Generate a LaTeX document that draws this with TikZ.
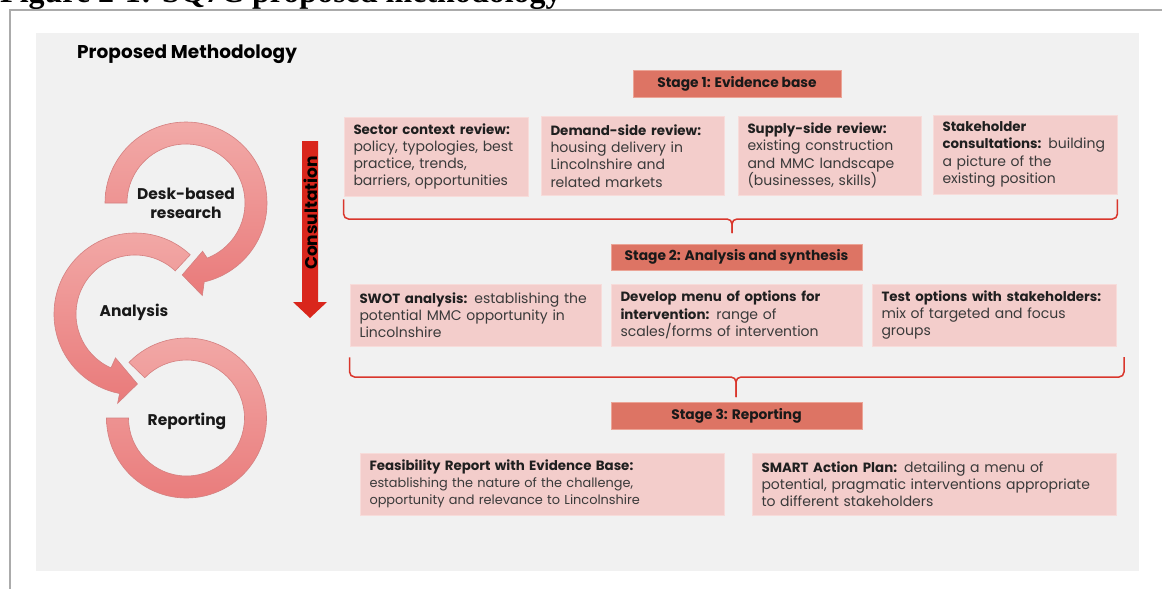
\documentclass[tikz,border=0pt]{standalone}
\usepackage{fontspec}
\setmainfont{Poppins}
\newfontfamily\captionserif{Liberation Serif}
\usetikzlibrary{calc}

\definecolor{panelgray}{HTML}{F1F1F1}
\definecolor{framegray}{HTML}{ABABAB}
\definecolor{stagefill}{HTML}{DD7464}
\definecolor{stageedge}{HTML}{EBA496}
\definecolor{boxfill}{HTML}{F3CDCB}
\definecolor{boxedge}{HTML}{F7DCDA}
\definecolor{bracered}{HTML}{D9362C}
\definecolor{consred}{HTML}{D9261C}
\definecolor{bodytext}{HTML}{3A3A3A}
\definecolor{ringtop}{HTML}{F2AAA8}
\definecolor{ringbot}{HTML}{E97A7A}
\definecolor{ringedge}{HTML}{D48080}

\newcommand\lbl[1]{{\fontsize{13.4}{17.3}\selectfont\bfseries\color{black!88}#1}}

\tikzset{
  panelbox/.style={fill=boxfill, draw=boxedge, line width=0.8pt,
    inner xsep=9.5pt, inner ysep=0pt, align=left, text=bodytext,
    font=\fontsize{14}{17.3}\selectfont},
  stagebox/.style={fill=stagefill, draw=stageedge, line width=0.8pt,
    inner sep=0pt, text=black!90, font=\bfseries\fontsize{13.8}{16}\selectfont},
  brace/.style={draw=bracered, line width=1.5pt, rounded corners=5pt},
  ring/.style={top color=ringtop, bottom color=ringbot},
  ringline/.style={draw=ringedge, line width=0.6pt},
  ringlabel/.style={text=black!90, align=center, font=\bfseries\fontsize{15.5}{19}\selectfont},
}

\begin{document}
\begin{tikzpicture}[x=1pt,y=1pt]
\useasboundingbox (0,0) rectangle (1162,-589);
\clip (0,0) rectangle (1162,-589);

% page caption (cut by the top edge) and page frame
\node[anchor=base west, inner sep=0pt,
  font=\captionserif\fontsize{32}{32}\bfseries\selectfont] (caption) at (0,-2)
  {Figure 2-1: SQ7C proposed methodology};
\fill[white] (0,-10) rectangle (1162,-589);
\draw[framegray, line width=2pt] (10,-589) -- (10,-10) -- (1162,-10);

% grey slide panel
\fill[panelgray] (36,-33) rectangle (1139,-571);

\node[anchor=west, inner sep=0pt, font=\bfseries\fontsize{18.5}{18.5}\selectfont] (title)
  at (77,-54) {Proposed Methodology};

% circular process arrows
\begin{scope}[shift={(186,-203)}]
  \shade[ring] (180:81) arc[start angle=180, end angle=-77, radius=81]
    -- (-80:94) -- (-93:72) -- (-71:51) -- (-69:59)
    arc[start angle=-69, end angle=180, radius=59] -- cycle;
  \draw[ringline] (180:81) arc[start angle=180, end angle=-77, radius=81]
    -- (-80:94) -- (-93:72) -- (-71:51) -- (-69:59)
    arc[start angle=-69, end angle=180, radius=59] -- cycle;
\end{scope}
\begin{scope}[shift={(135,-314)}]
  \shade[ring] (47:81) arc[start angle=47, end angle=259, radius=81]
    -- (259:91) -- (272:70) -- (246:48) -- (246:59)
    arc[start angle=246, end angle=47, radius=59] -- cycle;
  \draw[ringline] (47:81) arc[start angle=47, end angle=259, radius=81]
    -- (259:91) -- (272:70) -- (246:48) -- (246:59)
    arc[start angle=246, end angle=47, radius=59] -- cycle;
\end{scope}
\begin{scope}[shift={(186.5,-418)}]
  \shade[ring] (136:80) arc[start angle=136, end angle=-180, radius=80]
    -- (180:58) arc[start angle=-180, end angle=136, radius=58] -- cycle;
  \draw[ringline] (136:80) arc[start angle=136, end angle=-180, radius=80]
    -- (180:58) arc[start angle=-180, end angle=136, radius=58] -- cycle;
\end{scope}

\node[ringlabel] (desk) at (186,-203) {Desk-based\\research};
\node[ringlabel] (analysis) at (134,-312) {Analysis};
\node[ringlabel] (reporting) at (187,-421) {Reporting};

% consultation arrow
\fill[consred] (302,-141) -- (318,-141) -- (318,-302) -- (327,-302)
  -- (310,-318) -- (293,-302) -- (302,-302) -- cycle;
\node[rotate=90, inner sep=0pt, font=\bfseries\fontsize{17}{17}\selectfont] (consult)
  at (311,-213) {Consultation};

% stage headers
\node[stagebox, minimum width=208pt, minimum height=27pt] (s1) at (737,-83.5) {Stage 1: Evidence base};
\node[stagebox, minimum width=251pt, minimum height=26pt] (s2) at (736.5,-257) {Stage 2: Analysis and synthesis};
\node[stagebox, minimum width=251pt, minimum height=27pt] (s3) at (736.5,-415.5) {Stage 3: Reporting};

% stage 1 tasks
\node[panelbox, minimum width=184pt, minimum height=79pt, text width=165pt] (sector) at (436,-156.5)
  {\lbl{Sector context review:}\\policy, typologies, best\\practice, trends,\\barriers, opportunities};
\node[panelbox, minimum width=183pt, minimum height=79pt, text width=164pt] (demand) at (632.5,-156)
  {\lbl{Demand-side review:}\\housing delivery in\\Lincolnshire and\\related markets};
\node[panelbox, minimum width=183pt, minimum height=79pt, text width=164pt] (supply) at (829.5,-155.5)
  {\lbl{Supply-side review:}\\existing construction\\and MMC landscape\\(businesses, skills)};
\node[panelbox, minimum width=184pt, minimum height=79pt, text width=165pt] (stake) at (1025,-154.5)
  {\lbl{Stakeholder}\\\lbl{consultations:} building\\a picture of the\\existing position};

% stage 2 tasks
\node[panelbox, minimum width=251pt, minimum height=62pt, text width=232pt] (swot) at (475.5,-315)
  {\lbl{SWOT analysis:} establishing the\\potential MMC opportunity in\\Lincolnshire};
\node[panelbox, minimum width=251pt, minimum height=62pt, text width=232pt] (menu) at (736.5,-315)
  {\lbl{Develop menu of options for}\\\lbl{intervention:} range of\\scales/forms of intervention};
\node[panelbox, minimum width=244pt, minimum height=62pt, text width=225pt] (test) at (994,-315)
  {\lbl{Test options with stakeholders:}\\mix of targeted and focus\\groups};

% stage 3 outputs
\node[panelbox, font=\fontsize{12.9}{17.3}\selectfont, minimum width=364pt, minimum height=62pt, text width=345pt] (feas) at (542,-484)
  {\lbl{Feasibility Report with Evidence Base:}\\establishing the nature of the challenge,\\opportunity and relevance to Lincolnshire};
\node[panelbox, minimum width=364pt, minimum height=62pt, text width=345pt] (smart) at (934,-484)
  {\lbl{SMART Action Plan:} detailing a menu of\\potential, pragmatic interventions appropriate\\to different stakeholders};

% braces gathering each row into the next stage
\coordinate (b1L) at ([yshift=-3pt]sector.south west);
\coordinate (b1R) at ([yshift=-5pt]stake.south east);
\coordinate (b1M) at (732,-219);
\coordinate (b1T) at (732,-233);
\draw[brace] (b1L) |- (b1M) -- (b1T);
\draw[brace] (b1R) |- (b1M) -- (b1T);

\coordinate (b2L) at ([yshift=-11pt]swot.south west);
\coordinate (b2R) at (1124,-357);
\coordinate (b2M) at (736,-377);
\coordinate (b2T) at (736,-397);
\draw[brace] (b2L) |- (b2M) -- (b2T);
\draw[brace] (b2R) |- (b2M) -- (b2T);
\end{tikzpicture}
\end{document}
